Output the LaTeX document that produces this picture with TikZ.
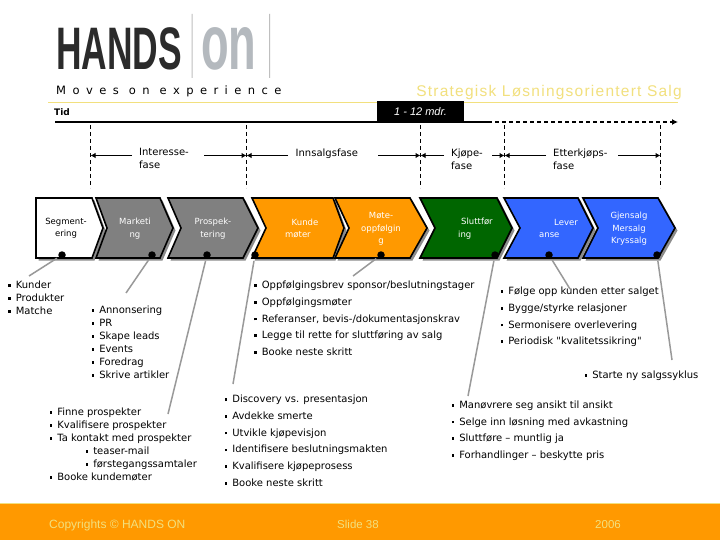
\documentclass[tikz,border=0pt]{standalone}
\usepackage{fontspec}
\setmainfont{DejaVu Sans}
\newfontfamily\arialf{Liberation Sans}
\newfontfamily\plainf{DejaVu Sans}
\usetikzlibrary{arrows.meta}
\definecolor{hoorange}{HTML}{FF9900}
\definecolor{hogreen}{HTML}{006600}
\definecolor{hoblue}{HTML}{3366FF}
\definecolor{hogray}{HTML}{808080}
\definecolor{hoyellow}{HTML}{F2E07E}
\definecolor{holine}{HTML}{999999}
\definecolor{hologo}{HTML}{2B2B2B}
\definecolor{hoon}{HTML}{B4B9BE}
\newcommand{\itm}[1]{\makebox[7.6pt][l]{\rule[1.8pt]{2.6pt}{2.6pt}}#1}
\newcommand{\chev}[5]{% x0 notch xtr tip fill
  \fill[black!45] (#1+2.5,200.5) -- (#3+2.5,200.5) -- (#4+2.5,230.5) -- (#3+2.5,260.5) -- (#1+2.5,260.5) -- (#2+2.5,230.5) -- cycle;
  \draw[chevline,fill=#5] (#1,198) -- (#3,198) -- (#4,228) -- (#3,258) -- (#1,258) -- (#2,228) -- cycle;}
\tikzset{
  body/.style={text=black,inner sep=0pt},
  phase/.style={body,anchor=north west,align=left,font=\fontsize{10}{13}\selectfont},
  chevtext/.style={font=\fontsize{8.5}{12.4}\selectfont,text=white,inner sep=0pt,align=center},
  listA/.style={body,anchor=north west,align=left,font=\fontsize{10}{13}\selectfont},
  listB/.style={body,anchor=north west,align=left,font=\fontsize{10}{16.7}\selectfont},
  chevline/.style={draw=black,line width=1.6pt,line join=miter},
  dotmark/.style={circle,fill=black,inner sep=0pt,minimum size=7.5pt},
  leader/.style={draw=holine,line width=1.5pt,shorten <=2pt},
  guide/.style={draw=black,line width=0.7pt,dash pattern=on 4pt off 3pt},
  span/.style={draw=black,line width=1.7pt,-{Latex[length=5pt,width=5.5pt]}},
  foot/.style={font=\arialf\fontsize{11.5}{13}\selectfont,text=hoyellow,inner sep=0pt},
}
\begin{document}
\begin{tikzpicture}[x=1pt,y=-1pt]
\useasboundingbox (0,0) rectangle (720,540);
\fill[white] (0,0) rectangle (720,540);
% logo
\node[font=\arialf\bfseries\fontsize{60}{60}\selectfont,text=hologo,inner sep=0pt,anchor=base west,xscale=0.59] (hands) at (56,70) {HANDS};
\node[font=\arialf\bfseries\fontsize{78}{78}\selectfont,text=hoon,inner sep=0pt,anchor=base west,xscale=0.58] (on) at (201,70) {on};
\fill[black!25] (191.6,14) rectangle (192.6,78) (269,14) rectangle (270,78);
\node[font=\fontsize{11.5}{12}\selectfont\addfontfeatures{LetterSpace=56},inner sep=0pt,anchor=base west] (moves) at (56,95) {Moves on experience};
\node[font=\arialf\fontsize{15.5}{17}\selectfont\addfontfeatures{LetterSpace=8},text=hoyellow,inner sep=0pt,anchor=base east] (strat) at (682,97) {Strategisk Løsningsorientert Salg};
\draw[hoyellow,line width=0.9pt] (48,102.5) -- (678,102.5);
\node[font=\bfseries\fontsize{9}{10}\selectfont,inner sep=0pt,anchor=base west] (tid) at (54,116) {Tid};
% time axis
\coordinate (axisA) at (55,122);
\coordinate (axisB) at (488,122);
\coordinate (axisC) at (678,122);
\draw[black,line width=1.5pt] (axisA) -- (axisB);
\draw[black,line width=1.5pt,dash pattern=on 4pt off 3pt,-{Latex[length=6pt,width=6pt]}] (axisB) -- (axisC);
\node[fill=black,text=white,minimum width=87pt,minimum height=21pt,inner sep=0pt,font=\arialf\itshape\fontsize{11}{13}\selectfont] (mdr) at (420.5,111.5) {1 - 12 mdr.};
% guides
\foreach \n/\x in {ga/90.5,gb/246.5,gc/420.5,gd/504.5,ge/660.5}{
  \coordinate (\n-t) at (\x,125);
  \coordinate (\n-b) at (\x,188);
  \coordinate (\n-m) at (\x,155.5);
  \draw[guide] (\n-t) -- (\n-b);
}
% phase spans
\coordinate (s1) at (132,155.5); \coordinate (s2) at (204,155.5);
\coordinate (s3) at (288,155.5); \coordinate (s4) at (378,155.5);
\coordinate (s5) at (444,155.5); \coordinate (s6) at (492,155.5);
\coordinate (s7) at (546,155.5); \coordinate (s8) at (618,155.5);
\draw[span] (s1) -- (ga-m);
\draw[span] (s2) -- (gb-m);
\draw[span] (s3) -- (gb-m);
\draw[span] (s4) -- (gc-m);
\draw[span] (s5) -- (gc-m);
\draw[span] (s6) -- (gd-m);
\draw[span] (s7) -- (gd-m);
\draw[span] (s8) -- (ge-m);
\node[phase] (pa) at (139,148.5) {Interesse-\\fase};
\node[phase] (pb) at (295.5,148.5) {Innsalgsfase};
\node[phase] (pc) at (451,148.5) {Kjøpe-\\fase};
\node[phase] (pd) at (553,148.5) {Etterkjøps-\\fase};
% chevrons
\fill[black!45] (38.5,200.5) -- (94.5,200.5) -- (105.5,230.5) -- (94.5,260.5) -- (38.5,260.5) -- cycle;
\draw[chevline,fill=white] (36,198) -- (92,198) -- (103,228) -- (92,258) -- (36,258) -- cycle;
\chev{96}{107}{160}{173}{hogray}
\chev{168}{181}{243}{258}{hogray}
\chev{252}{266}{333}{344}{hoorange}
\chev{335}{349}{410}{427}{hoorange}
\chev{420}{435}{497}{512}{hogreen}
\chev{504}{520}{578}{593}{hoblue}
\chev{583}{598}{658}{675}{hoblue}
\foreach \i/\x in {1/62,2/152,3/207,4/255,5/381,6/495,7/549,8/657}{\node[dotmark] (d\i) at (\x,255) {};}
\node[chevtext,text=black] (t1) at (66,228.5) {Segment-\\ering};
\node[chevtext] (t2) at (135,228.5) {Marketi\\ng};
\node[chevtext] (t3) at (213,228.5) {Prospek-\\tering};
\node[chevtext,align=left,anchor=west] (t4) at (285,228.5) {\hspace*{6.5pt}Kunde\\møter};
\node[chevtext] (t5) at (381,229) {Møte-\\oppfølgin\\g};
\node[chevtext,align=left,anchor=west] (t6) at (458,228.5) {\hspace*{3pt}Sluttfør\\ing};
\node[chevtext,align=left,anchor=west] (t7) at (539,228.5) {\hspace*{15pt}Lever\\anse};
\node[chevtext] (t8) at (629,229) {Gjensalg\\Mersalg\\Kryssalg};
% leader ends
\coordinate (e1) at (29,276);
\coordinate (e2) at (126,293);
\coordinate (e3) at (168,414);
\coordinate (e4) at (233,384);
\coordinate (e5) at (353,276);
\coordinate (e6) at (468,396);
\coordinate (e7) at (570,289);
\coordinate (e8) at (672,360);
\foreach \i in {1,...,8}{\draw[leader] (d\i) -- (e\i);}
% lists
\node[listA] (l1) at (8,281) {\itm{Kunder}\\\itm{Produkter}\\\itm{Matche}};
\node[listA] (l2) at (91.5,306) {\itm{Annonsering}\\\itm{PR}\\\itm{Skape leads}\\\itm{Events}\\\itm{Foredrag}\\\itm{Skrive artikler}};
\node[listA] (l3) at (49.5,407.5) {\itm{Finne prospekter}\\\itm{Kvalifisere prospekter}\\\itm{Ta kontakt med prospekter}\\\hspace*{36pt}\itm{teaser-mail}\\\hspace*{36pt}\itm{førstegangssamtaler}\\\itm{Booke kundemøter}};
\node[listB] (l4) at (254,281) {\itm{Oppfølgingsbrev sponsor/beslutningstager}\\\itm{Oppfølgingsmøter}\\\itm{Referanser, bevis-/dokumentasjonskrav}\\\itm{Legge til rette for sluttføring av salg}\\\itm{Booke neste skritt}};
\node[listB] (l5) at (224.5,395) {\itm{Discovery vs. presentasjon}\\\itm{Avdekke smerte}\\\itm{Utvikle kjøpevisjon}\\\itm{Identifisere beslutningsmakten}\\\itm{Kvalifisere kjøpeprosess}\\\itm{Booke neste skritt}};
\node[listB] (l6) at (500.5,287) {\itm{Følge opp kunden etter salget}\\\itm{Bygge/styrke relasjoner}\\\itm{Sermonisere overlevering}\\\itm{Periodisk {\plainf"}kvalitetssikring{\plainf"}}};
\node[listB] (l7) at (584.5,371) {\itm{Starte ny salgssyklus}};
\node[listB] (l8) at (451.5,400.5) {\itm{Manøvrere seg ansikt til ansikt}\\\itm{Selge inn løsning med avkastning}\\\itm{Sluttføre – muntlig ja}\\\itm{Forhandlinger – beskytte pris}};
% footer
\fill[hoorange] (0,503.5) rectangle (720,540);
\draw[hoyellow,line width=0.8pt] (0,503.5) -- (720,503.5);
\node[foot,anchor=base west,font=\arialf\fontsize{12}{13}\selectfont] (f1) at (49,528) {Copyrights © HANDS ON};
\node[foot,anchor=base] (f2) at (358,528) {Slide 38};
\node[foot,anchor=base] (f3) at (608,528) {2006};
\end{tikzpicture}
\end{document}
